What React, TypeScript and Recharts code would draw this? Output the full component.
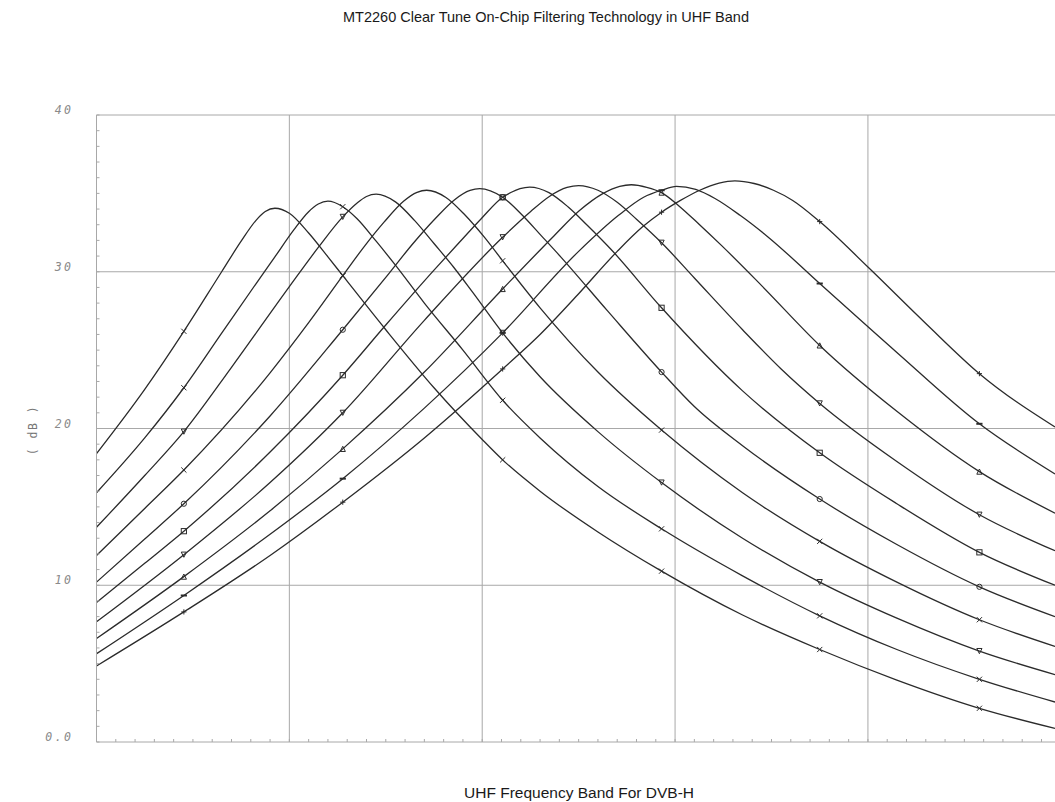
import React from 'react';
import { LineChart, Line, XAxis, YAxis, ReferenceLine } from 'recharts';

const TITLE = 'MT2260 Clear Tune On-Chip Filtering Technology in UHF Band';
const X_LABEL = 'UHF Frequency Band For DVB-H';
const Y_LABEL = '( dB )';

const X_GRID = [1, 2, 3, 4];
const Y_GRID = [10, 20, 30, 40];
const Y_TICKS = [0, 10, 20, 30, 40];
const Y_TICK_LABELS = ['0.0', '10', '20', '30', '40'];
const X_MINOR: number[] = [];
for (let i = 0; i <= 49; i++) X_MINOR.push(i / 10);
const Y_MINOR: number[] = [];
for (let i = 0; i <= 40; i++) Y_MINOR.push(i);

const MARKER_U = [0.453, 1.277, 2.106, 2.93, 3.75, 4.578];

const c1 = [[0, 18.4], [0.25, 22.5], [0.453, 26.2], [0.649, 30.0], [0.75, 31.95], [0.825, 33.25], [0.875, 33.84], [0.925, 34.05], [1.0, 33.73], [1.1, 32.47], [1.2, 30.95], [1.277, 29.75], [1.5, 26.3], [1.75, 22.6], [2.0, 19.3], [2.106, 18.0], [2.3, 16.0], [2.6, 13.4], [2.93, 10.9], [3.35, 8.1], [3.75, 5.9], [4.15, 3.95], [4.578, 2.15], [4.97, 0.87]];
const c2 = [[0, 15.9], [0.25, 19.4], [0.453, 22.6], [0.65, 26.1], [0.825, 29.2], [0.925, 30.95], [1.025, 32.7], [1.1, 33.83], [1.15, 34.32], [1.2, 34.5], [1.277, 34.15], [1.35, 33.4], [1.45, 31.95], [1.55, 30.42], [1.7, 28.0], [1.9, 25.0], [2.106, 21.8], [2.3, 19.4], [2.6, 16.3], [2.93, 13.6], [3.35, 10.6], [3.75, 8.05], [4.15, 5.9], [4.578, 4.0], [4.97, 2.55]];
const c3 = [[0, 13.7], [0.25, 17.0], [0.453, 19.8], [0.7, 23.9], [1.0, 29.05], [1.15, 31.55], [1.277, 33.5], [1.35, 34.37], [1.4, 34.8], [1.45, 34.95], [1.55, 34.46], [1.65, 33.26], [1.75, 31.8], [1.85, 30.32], [1.95, 28.7], [2.106, 26.1], [2.3, 23.3], [2.6, 19.8], [2.93, 16.55], [3.35, 13.0], [3.75, 10.2], [4.15, 7.9], [4.578, 5.8], [4.97, 4.3]];
const c4 = [[0, 11.9], [0.25, 14.9], [0.453, 17.35], [0.9, 23.55], [1.1, 26.75], [1.277, 29.75], [1.392, 31.67], [1.492, 33.18], [1.592, 34.5], [1.662, 35.07], [1.712, 35.2], [1.812, 34.74], [1.912, 33.6], [2.012, 32.19], [2.106, 30.7], [2.3, 27.7], [2.6, 23.6], [2.93, 19.9], [3.35, 15.9], [3.75, 12.8], [4.15, 10.2], [4.578, 7.8], [4.97, 6.1]];
const c5 = [[0, 10.2], [0.25, 12.95], [0.453, 15.2], [0.9, 20.8], [1.277, 26.3], [1.517, 29.9], [1.637, 31.74], [1.757, 33.4], [1.857, 34.6], [1.937, 35.19], [1.987, 35.3], [2.106, 34.75], [2.207, 33.62], [2.307, 32.29], [2.407, 30.95], [2.65, 27.5], [2.93, 23.6], [3.1, 21.4], [3.35, 18.9], [3.75, 15.5], [4.15, 12.6], [4.578, 9.9], [4.97, 8.0]];
const c6 = [[0, 8.9], [0.25, 11.4], [0.453, 13.45], [0.9, 18.5], [1.277, 23.4], [1.5, 26.6], [1.75, 30.1], [1.876, 31.8], [1.996, 33.4], [2.106, 34.75], [2.151, 35.07], [2.196, 35.3], [2.246, 35.4], [2.346, 35.05], [2.446, 34.13], [2.546, 32.95], [2.666, 31.45], [2.93, 27.7], [3.35, 22.4], [3.75, 18.45], [4.15, 15.2], [4.578, 12.1], [4.97, 10.0]];
const c7 = [[0, 7.67], [0.453, 11.95], [0.9, 16.55], [1.277, 21.0], [1.7, 26.9], [2.106, 32.2], [2.25, 33.83], [2.35, 34.82], [2.44, 35.38], [2.5, 35.5], [2.6, 35.2], [2.7, 34.43], [2.8, 33.35], [2.93, 31.85], [3.1, 29.6], [3.35, 26.3], [3.55, 23.8], [3.75, 21.6], [4.15, 17.9], [4.578, 14.5], [4.97, 12.2]];
const c8 = [[0, 6.6], [0.453, 10.55], [0.9, 14.75], [1.277, 18.7], [1.7, 23.6], [2.106, 28.9], [2.373, 32.3], [2.503, 33.89], [2.623, 34.97], [2.713, 35.45], [2.773, 35.55], [2.853, 35.39], [2.93, 35.05], [3.023, 34.17], [3.123, 33.05], [3.243, 31.65], [3.45, 29.1], [3.75, 25.3], [4.15, 21.1], [4.578, 17.25], [4.97, 14.6]];
const c9 = [[0, 5.63], [0.453, 9.35], [0.9, 13.25], [1.277, 16.8], [1.7, 21.3], [2.106, 26.1], [2.5, 31.3], [2.707, 33.6], [2.837, 34.75], [2.93, 35.2], [3.007, 35.45], [3.107, 35.25], [3.207, 34.67], [3.337, 33.6], [3.477, 32.27], [3.75, 29.25], [4.15, 24.85], [4.578, 20.3], [4.97, 17.1]];
const c10 = [[0, 4.85], [0.453, 8.3], [0.9, 11.9], [1.277, 15.3], [1.7, 19.4], [2.106, 23.8], [2.3, 26.0], [2.5, 28.6], [2.7, 31.3], [2.83, 32.85], [2.93, 33.8], [3.028, 34.55], [3.128, 35.2], [3.228, 35.65], [3.31, 35.8], [3.41, 35.63], [3.51, 35.2], [3.61, 34.55], [3.75, 33.2], [4.0, 30.3], [4.3, 26.7], [4.578, 23.5], [4.97, 20.1]];

const CURVES = [c1, c2, c3, c4, c5, c6, c7, c8, c9, c10];
const SYMBOLS = ['x', 'x', 'tridown', 'x', 'circle', 'square', 'tridown', 'triup', 'dash', 'plus'];

const INK = '#2b2b2b';
const GRID = '#a8a8a8';

function makeDot(sym: string, ci: number) {
  return (props: any) => {
    const { cx, cy, payload, index } = props;
    const key = `d-${ci}-${index}`;
    if (!payload || !MARKER_U.includes(payload.u) || cx == null || cy == null) return <g key={key} />;
    const s = 2.6;
    const st = { stroke: INK, strokeWidth: 1, fill: 'none' };
    switch (sym) {
      case 'x':
        return (
          <g key={key}>
            <line x1={cx - s} y1={cy - s} x2={cx + s} y2={cy + s} {...st} />
            <line x1={cx - s} y1={cy + s} x2={cx + s} y2={cy - s} {...st} />
          </g>
        );
      case 'plus':
        return (
          <g key={key}>
            <line x1={cx - s} y1={cy} x2={cx + s} y2={cy} {...st} />
            <line x1={cx} y1={cy - s} x2={cx} y2={cy + s} {...st} />
          </g>
        );
      case 'dash':
        return <line key={key} x1={cx - s - 0.5} y1={cy} x2={cx + s + 0.5} y2={cy} stroke={INK} strokeWidth={2} />;
      case 'circle':
        return <circle key={key} cx={cx} cy={cy} r={s} {...st} />;
      case 'square':
        return <rect key={key} x={cx - s} y={cy - s} width={2 * s} height={2 * s} {...st} />;
      case 'triup':
        return <polygon key={key} points={`${cx},${cy - s} ${cx - s},${cy + s} ${cx + s},${cy + s}`} {...st} />;
      case 'tridown':
        return <polygon key={key} points={`${cx},${cy + s} ${cx - s},${cy - s} ${cx + s},${cy - s}`} {...st} />;
      default:
        return <g key={key} />;
    }
  };
}

const renderYTick = (props: any) => {
  const { x, y, payload, index } = props;
  const i = Y_TICKS.indexOf(payload.value);
  return (
    <g key={`yt-${index}`}>
      <line x1={x} y1={y} x2={x + 3} y2={y} stroke={GRID} strokeWidth={1} />
      {i >= 0 ? (
        <text x={x - 23} y={y - 1} textAnchor="end" fill="#8a8a8a" fontSize={11.5} fontFamily="DejaVu Sans Mono" fontStyle="italic" letterSpacing={2.5}>
          {Y_TICK_LABELS[i]}
        </text>
      ) : null}
    </g>
  );
};

const renderXTick = (props: any) => {
  const { x, y, index } = props;
  return <line key={`xt-${index}`} x1={x} y1={y} x2={x} y2={y - 3} stroke={GRID} strokeWidth={1} />;
};

export default function App() {
  return (
    <div style={{ position: 'absolute', left: 0, top: 0, width: 1055, height: 802, background: '#fff', overflow: 'hidden' }}>
      <LineChart width={1055} height={802} margin={{ top: 115, right: 0, bottom: 0, left: 0 }}>
        <XAxis xAxisId="x" type="number" dataKey="u" domain={[0, 4.97]} allowDataOverflow ticks={X_MINOR} interval={0} tick={renderXTick} tickSize={0} tickMargin={0} height={60} axisLine={{ stroke: GRID }} tickLine={false} />
        <YAxis yAxisId="y" type="number" domain={[0, 40]} allowDataOverflow ticks={Y_MINOR} interval={0} tick={renderYTick} tickSize={0} tickMargin={0} width={96.5} axisLine={{ stroke: GRID }} tickLine={false} />
        {X_GRID.map((g) => (
          <ReferenceLine key={`gx${g}`} xAxisId="x" yAxisId="y" x={g} stroke={GRID} strokeWidth={1} />
        ))}
        {Y_GRID.map((g) => (
          <ReferenceLine key={`gy${g}`} xAxisId="x" yAxisId="y" y={g} stroke={GRID} strokeWidth={1} />
        ))}
        {CURVES.map((c, ci) => (
          <Line
            key={`c${ci}`}
            xAxisId="x"
            yAxisId="y"
            data={c.map(([u, v]) => ({ u, v }))}
            dataKey="v"
            type="monotone"
            stroke={INK}
            strokeWidth={1.3}
            dot={makeDot(SYMBOLS[ci], ci)}
            activeDot={false}
            isAnimationActive={false}
          />
        ))}
      </LineChart>
      <svg width={1055} height={802} style={{ position: 'absolute', left: 0, top: 0, pointerEvents: 'none' }}>
        <text x={546} y={22} textAnchor="middle" fontSize={14.5} fontFamily="Liberation Sans, Arial, sans-serif" fill="#1a1a1a">{TITLE}</text>
        <text x={579} y={798} textAnchor="middle" fontSize={15.5} fontFamily="Liberation Sans, Arial, sans-serif" fill="#1a1a1a">{X_LABEL}</text>
        <text x={37} y={430} textAnchor="middle" fontSize={11.5} fontFamily="DejaVu Sans Mono" fill="#777" transform="rotate(-90 37 430)" letterSpacing={1.5}>{Y_LABEL}</text>
      </svg>
    </div>
  );
}
